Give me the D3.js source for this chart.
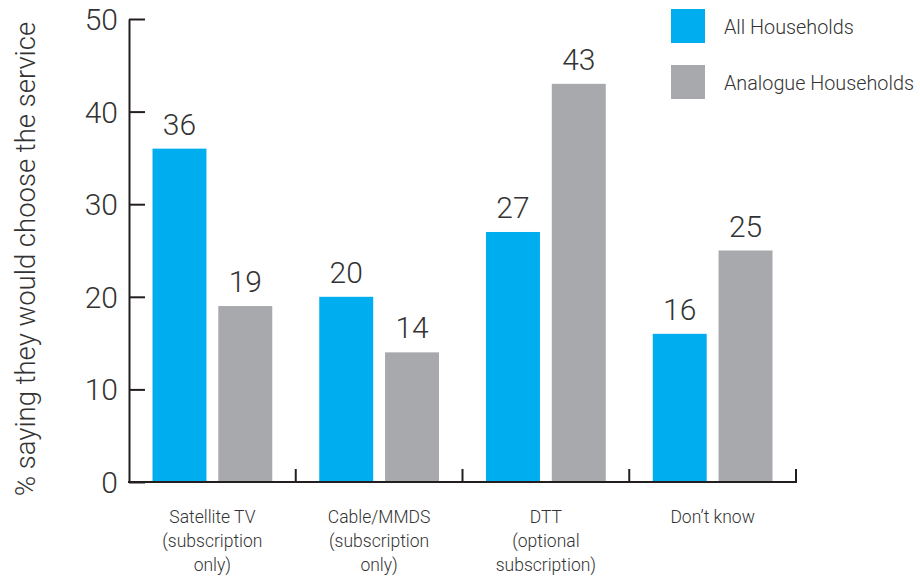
<!DOCTYPE html>
<html>
<head>
<meta charset="utf-8">
<script src="https://cdn.jsdelivr.net/npm/d3@7"></script>
<style>
  body { margin: 0; background: #fff; }
  svg text { font-family: Roboto, "Liberation Sans", Arial, sans-serif; font-weight: 300; fill: #333; }
</style>
</head>
<body>
<svg id="chart" width="920" height="577"></svg>
<script>
// Survey responses: which service households would choose
const categories = [
  ["Satellite TV", "(subscription", "only)"],
  ["Cable/MMDS", "(subscription", "only)"],
  ["DTT", "(optional", "subscription)"],
  ["Don’t know"]
];
const seriesNames = ["All Households", "Analogue Households"];
const allHouseholds = [36, 20, 27, 16];
const analogueHouseholds = [19, 14, 43, 25];
const yTicks = [0, 10, 20, 30, 40, 50];
const colors = ["#00aeef", "#a7a9ac"];

const svg = d3.select("#chart");
const plotLeft = 129, plotRight = 796, plotTop = 19, plotBottom = 482;

const x0 = d3.scaleBand().domain(d3.range(categories.length)).range([plotLeft, plotRight]).paddingInner(0).paddingOuter(0);
const x1 = d3.scaleBand().domain(d3.range(seriesNames.length)).range([23.5, x0.bandwidth() - 23.5]).paddingInner(0.18);
const y = d3.scaleLinear().domain([0, 50]).range([plotBottom, plotTop]);

const rows = categories.map((c, i) => [allHouseholds[i], analogueHouseholds[i]]);

// Bars
const groups = svg.append("g").selectAll("g").data(rows).join("g")
  .attr("transform", (d, i) => `translate(${x0(i)},0)`);
groups.selectAll("rect").data(d => d).join("rect")
  .attr("x", (d, j) => x1(j))
  .attr("width", x1.bandwidth())
  .attr("y", d => y(d))
  .attr("height", d => y(0) - y(d))
  .attr("fill", (d, j) => colors[j]);

// Value labels
groups.selectAll("text.val").data(d => d).join("text")
  .attr("class", "val")
  .attr("x", (d, j) => x1(j) + x1.bandwidth() / 2)
  .attr("y", d => y(d) - 14)
  .attr("text-anchor", "middle")
  .style("font-size", "30px")
  .text(d => d);

// Y axis
const yAxis = svg.append("g").attr("transform", `translate(${plotLeft},0)`)
  .call(d3.axisLeft(y).tickValues(yTicks).tickSize(-16).tickSizeOuter(0));
yAxis.select(".domain").attr("stroke", "#231f20").attr("stroke-width", 2);
yAxis.selectAll(".tick line").attr("stroke", "#231f20").attr("stroke-width", 2);
yAxis.selectAll(".tick text").style("font-size", "30px").attr("fill", "#333").attr("dy", "0.35em")
  .attr("x", -11);

// X axis: baseline with upward ticks at band boundaries
const xAxis = svg.append("g");
xAxis.append("line")
  .attr("x1", plotLeft - 1).attr("x2", plotRight + 1)
  .attr("y1", y(0)).attr("y2", y(0))
  .attr("stroke", "#231f20").attr("stroke-width", 2);
const boundaries = d3.range(1, categories.length + 1).map(i => x0(i - 1) + x0.bandwidth());
xAxis.selectAll("line.tk").data(boundaries).join("line")
  .attr("class", "tk")
  .attr("x1", d => d).attr("x2", d => d)
  .attr("y1", y(0)).attr("y2", y(0) - 13)
  .attr("stroke", "#231f20").attr("stroke-width", 2);

// Category labels
const catText = svg.append("g").selectAll("text").data(categories).join("text")
  .attr("x", (d, i) => x0(i) + x0.bandwidth() / 2)
  .attr("y", 523)
  .attr("text-anchor", "middle")
  .style("font-size", "17.5px");
catText.selectAll("tspan").data(d => d).join("tspan")
  .attr("x", function() { return d3.select(this.parentNode).attr("x"); })
  .attr("dy", (d, k) => k === 0 ? 0 : 24)
  .text(d => d);

// Y axis title
svg.append("text")
  .attr("transform", "translate(35,259) rotate(-90)")
  .attr("text-anchor", "middle")
  .style("font-size", "27.5px")
  .text("% saying they would choose the service");

// Legend
const legend = svg.append("g").selectAll("g").data(seriesNames).join("g")
  .attr("transform", (d, i) => `translate(671,${9 + i * 56})`);
legend.append("rect").attr("width", 34).attr("height", 34).attr("fill", (d, i) => colors[i]);
legend.append("text").attr("x", 53).attr("y", 18).attr("dy", "0.35em")
  .style("font-size", "19.8px").text(d => d);
</script>
</body>
</html>
